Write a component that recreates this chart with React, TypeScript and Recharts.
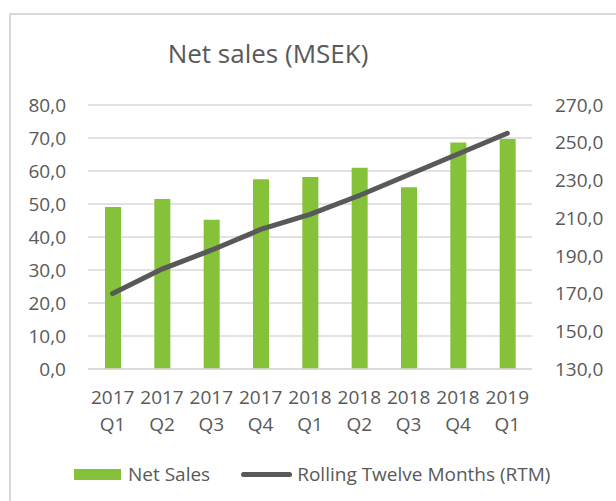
import React from "react";
import { ComposedChart, Bar, Line, XAxis, YAxis, CartesianGrid, Legend } from "recharts";

const years = ["2017", "2017", "2017", "2017", "2018", "2018", "2018", "2018", "2019"];
const quarters = ["Q1", "Q2", "Q3", "Q4", "Q1", "Q2", "Q3", "Q4", "Q1"];
const netSales = [49.1, 51.5, 45.2, 57.5, 58.2, 61.0, 55.1, 68.6, 69.7];
const rtm = [170, 183, 193, 204, 212, 222, 233, 244, 255];
const leftTicks = [0, 10, 20, 30, 40, 50, 60, 70, 80];
const rightTicks = [130, 150, 170, 190, 210, 230, 250, 270];

const FONT = "'Open Sans', sans-serif";
const TEXT = "#595959";
const GREEN = "#85c23a";

const chartData = years.map((y, i) => ({
  name: `${y} ${quarters[i]}`,
  sales: netSales[i],
  rtm: rtm[i],
}));

const fmt = (v: number) => v.toFixed(1).replace(".", ",");

const XTick = ({ x, y, payload }: any) => {
  const [yr, q] = String(payload.value).split(" ");
  return (
    <text textAnchor="middle" fill={TEXT} fontSize={19} fontFamily={FONT}>
      <tspan x={x} y={y + 35}>{yr}</tspan>
      <tspan x={x} y={y + 62}>{q}</tspan>
    </text>
  );
};

const LegendContent = () => (
  <div style={{ display: "flex", alignItems: "center", height: 30, paddingLeft: 74, fontFamily: FONT, fontSize: 19, color: TEXT }}>
    <span style={{ display: "inline-block", width: 47, height: 11, background: GREEN, marginRight: 7 }} />
    <span>Net Sales</span>
    <span style={{ display: "inline-block", width: 51, height: 5, borderRadius: 3, background: TEXT, marginLeft: 31, marginRight: 5 }} />
    <span>Rolling Twelve Months (RTM)</span>
  </div>
);

export default function App() {
  return (
    <div style={{ position: "absolute", left: 0, top: 0, width: 616, height: 501, overflow: "hidden", background: "#fff" }}>
      <div style={{ position: "absolute", left: 9, top: 13, width: 700, height: 600, border: "2px solid #d9d9d9" }} />
      <div style={{ position: "absolute", left: 0, top: 36, width: 536, textAlign: "center", fontFamily: FONT, fontSize: 26, color: TEXT, lineHeight: "34px" }}>
        Net sales (MSEK)
      </div>
      <div style={{ position: "absolute", left: 0, top: 0 }}>
        <ComposedChart width={616} height={501} data={chartData} margin={{ top: 105, right: 0, bottom: 22, left: 0 }}>
          <CartesianGrid yAxisId="left" vertical={false} stroke="#d9d9d9" strokeWidth={1.5} />
          <XAxis dataKey="name" height={80} axisLine={{ stroke: "#d9d9d9", strokeWidth: 1.5 }} tickLine={false} tickSize={0} tickMargin={0} tick={<XTick />} interval={0} />
          <YAxis yAxisId="left" width={88} domain={[0, 80]} ticks={leftTicks} tickFormatter={fmt} axisLine={false} tickLine={false} tickSize={0} tickMargin={22} tick={{ fill: TEXT, fontSize: 19, fontFamily: FONT }} />
          <YAxis yAxisId="right" orientation="right" width={84} domain={[130, 270]} ticks={rightTicks} tickFormatter={fmt} axisLine={false} tickLine={false} tickSize={0} tickMargin={23} tick={{ fill: TEXT, fontSize: 19, fontFamily: FONT, textAnchor: "start" }} />
          <Legend content={<LegendContent />} wrapperStyle={{ top: 459, left: 0, width: 616, height: 30 }} />
          <Bar yAxisId="left" dataKey="sales" name="Net Sales" fill={GREEN} barSize={16} isAnimationActive={false} />
          <Line yAxisId="right" dataKey="rtm" name="Rolling Twelve Months (RTM)" type="linear" stroke={TEXT} strokeWidth={5} strokeLinecap="round" dot={false} activeDot={false} isAnimationActive={false} />
        </ComposedChart>
      </div>
    </div>
  );
}
